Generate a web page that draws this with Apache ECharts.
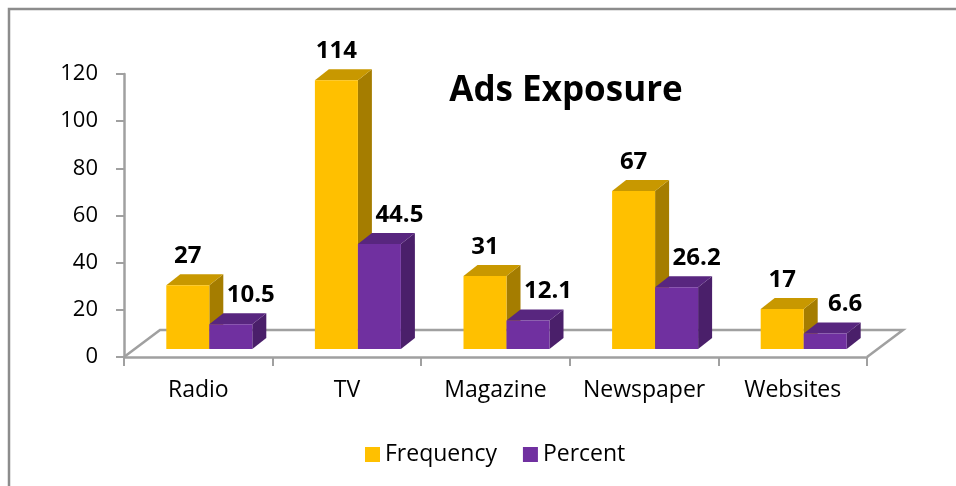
<!DOCTYPE html>
<html>
<head>
<meta charset="utf-8">
<script src="https://cdn.jsdelivr.net/npm/echarts@6/dist/echarts.min.js"></script>
<style>
  html, body { margin: 0; padding: 0; background: #ffffff; }
  #chart { width: 956px; height: 486px; }
</style>
</head>
<body>
<div id="chart"></div>
<script>
// Ad exposure by media channel
const categories = ['Radio', 'TV', 'Magazine', 'Newspaper', 'Websites'];
const frequency = [27, 114, 31, 67, 17];
const percent = [10.5, 44.5, 12.1, 26.2, 6.6];
const yTicks = [0, 20, 40, 60, 80, 100, 120];

const FONT = '"Open Sans", "Noto Sans", sans-serif';

// 3D look: bar depth, floor depth and where the bars stand on the floor
const BAR_W = 43;
const BAR_DX = 14, BAR_DY = 11;
const FLOOR_DX = 36, FLOOR_DY = 27;
const BASE_DX = 11, BASE_DY = 8;
const GRID_LINE = '#a0a0a0';

function barRenderer(side, faces, labelDx) {
  return function (params, api) {
    const idx = api.value(0);
    const val = api.value(1);
    const base = api.coord([idx, 0]);
    const top = api.coord([idx, val]);
    const cx = base[0] + BASE_DX;
    const x0 = side < 0 ? cx - BAR_W : cx;
    const x1 = x0 + BAR_W;
    const yb = base[1] - BASE_DY;
    const yt = top[1] - BASE_DY;
    return {
      type: 'group',
      children: [
        {
          type: 'polygon',
          shape: { points: [[x1, yt], [x1 + BAR_DX, yt - BAR_DY], [x1 + BAR_DX, yb - BAR_DY], [x1, yb]] },
          style: { fill: faces.side }
        },
        {
          type: 'polygon',
          shape: { points: [[x0, yt], [x0 + BAR_DX, yt - BAR_DY], [x1 + BAR_DX, yt - BAR_DY], [x1, yt]] },
          style: { fill: faces.top }
        },
        {
          type: 'rect',
          shape: { x: x0, y: yt, width: BAR_W, height: yb - yt },
          style: { fill: faces.front }
        },
        {
          type: 'text',
          z2: 100,
          style: {
            text: String(val),
            x: (x0 + x1) / 2 + labelDx,
            y: yt - 29,
            align: 'center',
            verticalAlign: 'middle',
            fill: '#000000',
            font: 'bold 24px ' + FONT
          }
        }
      ]
    };
  };
}

function floorRenderer(params, api) {
  const cs = params.coordSys;
  const yF = cs.y + cs.height;
  const xL = cs.x, xR = cs.x + cs.width;
  return {
    type: 'polyline',
    shape: {
      points: [[xL, yF], [xL + FLOOR_DX, yF - FLOOR_DY], [xR + FLOOR_DX, yF - FLOOR_DY], [xR, yF]]
    },
    style: { fill: 'none', stroke: GRID_LINE, lineWidth: 2.5 }
  };
}

const chart = echarts.init(document.getElementById('chart'), null, { renderer: 'canvas' });

chart.setOption({
  backgroundColor: '#ffffff',
  animation: false,
  title: {
    text: 'Ads Exposure',
    left: 561,
    top: 69,
    textAlign: 'center',
    textStyle: { fontFamily: FONT, fontWeight: 'bold', fontSize: 35, color: '#000000' }
  },
  legend: {
    data: ['Frequency', 'Percent'],
    left: 360,
    top: 438,
    icon: 'rect',
    itemWidth: 15,
    itemHeight: 15,
    itemGap: 26,
    textStyle: { fontFamily: FONT, fontSize: 23, color: '#000000' }
  },
  graphic: [
    {
      type: 'rect',
      shape: { x: 9, y: 9, width: 1000, height: 600 },
      style: { fill: 'none', stroke: '#8c8c8c', lineWidth: 2.5 },
      silent: true
    }
  ],
  grid: { left: 124, right: 89, top: 74, bottom: 129 },
  xAxis: {
    type: 'category',
    data: categories,
    boundaryGap: true,
    axisLine: { show: true, lineStyle: { color: GRID_LINE, width: 2.5 } },
    axisTick: { show: true, alignWithLabel: false, interval: 0, length: 9, lineStyle: { color: GRID_LINE, width: 2 } },
    axisLabel: { color: '#000000', fontFamily: FONT, fontSize: 23, margin: 22, interval: 0, hideOverlap: false },
    splitLine: { show: false }
  },
  yAxis: {
    type: 'value',
    min: yTicks[0],
    max: yTicks[yTicks.length - 1],
    interval: yTicks[1] - yTicks[0],
    axisLine: { show: true, lineStyle: { color: GRID_LINE, width: 2.5 } },
    axisTick: { show: true, length: 8, lineStyle: { color: GRID_LINE, width: 2 } },
    axisLabel: { color: '#000000', fontFamily: FONT, fontSize: 22, margin: 26 },
    splitLine: { show: false }
  },
  series: [
    {
      name: 'floor',
      type: 'custom',
      silent: true,
      clip: false,
      z: 1,
      renderItem: floorRenderer,
      data: [[0, 0]]
    },
    {
      name: 'Frequency',
      type: 'custom',
      clip: false,
      z: 3,
      itemStyle: { color: '#FFC000' },
      renderItem: barRenderer(-1, { front: '#FFC000', top: '#C89800', side: '#A57D00' }, 0),
      data: frequency.map((v, i) => [i, v])
    },
    {
      name: 'Percent',
      type: 'custom',
      clip: false,
      z: 4,
      itemStyle: { color: '#7030A0' },
      renderItem: barRenderer(1, { front: '#7030A0', top: '#58267F', side: '#4A1F6A' }, 20),
      data: percent.map((v, i) => [i, v])
    }
  ]
});
</script>
</body>
</html>
